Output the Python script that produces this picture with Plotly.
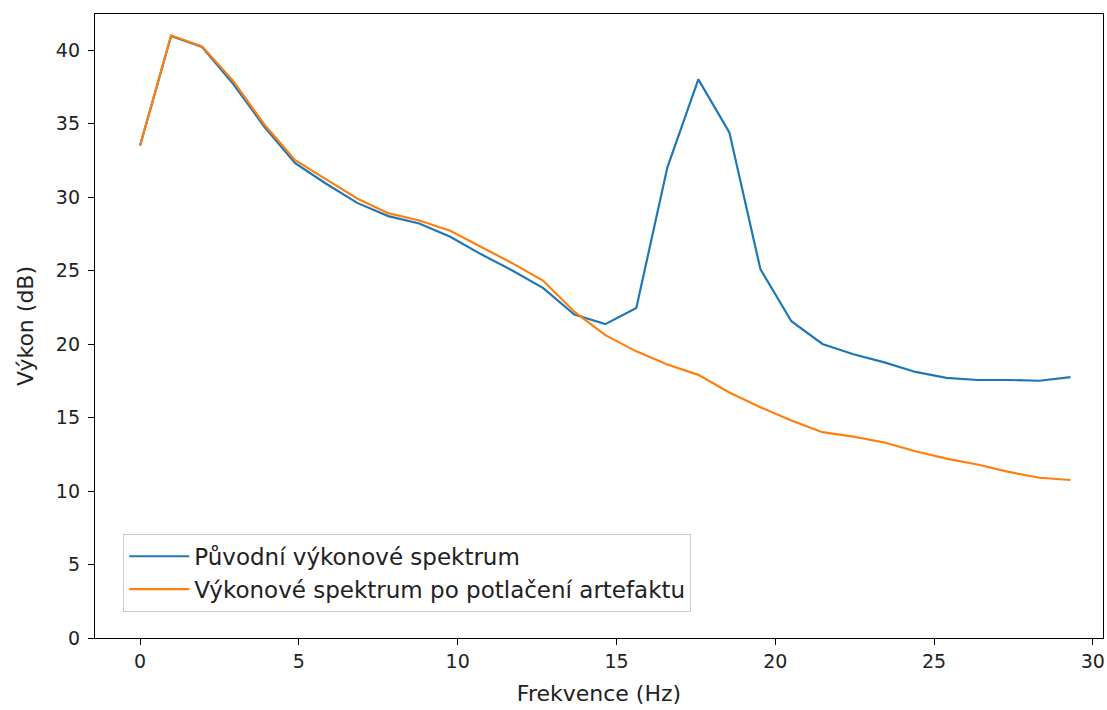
import plotly.graph_objects as go

freq_step = 0.9765625
n_points = 31
frequency = [i * freq_step for i in range(n_points)]

original_db = [33.5, 40.95, 40.2, 37.7, 34.8, 32.3, 30.9, 29.6, 28.7, 28.2, 27.3,
               26.1, 25.0, 23.8, 22.0, 21.35, 22.45, 32.0, 38.0, 34.4, 25.1,
               21.55, 20.0, 19.3, 18.75, 18.1, 17.7, 17.55, 17.55, 17.5, 17.75]

cleaned_db = [33.5, 41.0, 40.25, 37.9, 34.95, 32.5, 31.2, 29.9, 28.9, 28.4, 27.7,
              26.6, 25.5, 24.3, 22.2, 20.6, 19.5, 18.6, 17.9, 16.7, 15.7,
              14.8, 14.0, 13.7, 13.3, 12.7, 12.2, 11.8, 11.3, 10.9, 10.75]

series_names = ["Původní výkonové spektrum",
                "Výkonové spektrum po potlačení artefaktu"]

x_ticks = [0, 5, 10, 15, 20, 25, 30]
y_ticks = [0, 5, 10, 15, 20, 25, 30, 35, 40]

font_family = "DejaVu Sans"

fig = go.Figure()
fig.add_trace(go.Scatter(x=frequency, y=original_db, mode="lines",
                         name=series_names[0],
                         line=dict(color="#1f77b4", width=2.2)))
fig.add_trace(go.Scatter(x=frequency, y=cleaned_db, mode="lines",
                         name=series_names[1],
                         line=dict(color="#ff7f0e", width=2.2)))

axis_common = dict(showline=True, linecolor="black", linewidth=1.3, mirror=True,
                   ticks="outside", ticklen=6, tickwidth=1.3, tickcolor="black",
                   showgrid=False, zeroline=False,
                   tickfont=dict(family=font_family, size=19, color="#222222"))

fig.update_xaxes(range=[-1.42, 30.32], tickvals=x_ticks,
                 title=dict(text="Frekvence (Hz)", standoff=14,
                            font=dict(family=font_family, size=22, color="#222222")),
                 **axis_common)
fig.update_yaxes(range=[0, 42.45], tickvals=y_ticks, ticklabelstandoff=4,
                 title=dict(text="Výkon (dB)", standoff=16,
                            font=dict(family=font_family, size=22, color="#222222")),
                 **axis_common)

fig.update_layout(
    width=1107, height=710,
    margin=dict(l=95, r=2, t=14, b=72),
    plot_bgcolor="white", paper_bgcolor="white",
    font=dict(family=font_family, color="#222222"),
    legend=dict(x=0.028, y=0.042, xanchor="left", yanchor="bottom",
                bordercolor="#cccccc", borderwidth=1, bgcolor="rgba(255,255,255,0.8)",
                font=dict(family=font_family, size=23, color="#222222"),
                tracegroupgap=0, itemwidth=60),
    showlegend=True,
)

fig.write_html("out.html")
